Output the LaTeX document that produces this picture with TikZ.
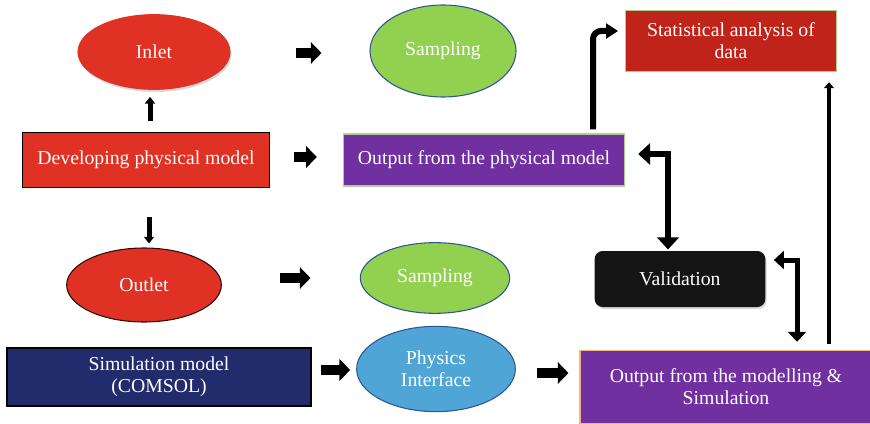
\documentclass[tikz,border=0pt]{standalone}
\usepackage{fontspec}
\setmainfont{Liberation Serif}
\usetikzlibrary{positioning,arrows.meta,shapes.geometric,shadows}
\definecolor{cred}{HTML}{DF3124}
\definecolor{cdred}{HTML}{C0231A}
\definecolor{cgreen}{HTML}{92D050}
\definecolor{cblue}{HTML}{4FA6D6}
\definecolor{cedge}{HTML}{2F5597}
\definecolor{cpurp}{HTML}{7030A0}
\definecolor{cnavy}{HTML}{222B6C}
\definecolor{cval}{HTML}{151515}
\definecolor{cpale}{HTML}{A9D18E}
\definecolor{corg}{HTML}{F4B183}
\tikzset{
  oval/.style={ellipse, inner sep=0pt, text=white, align=center, line width=0.8pt,
               font=\fontsize{14.8}{16.5}\selectfont},
  panel/.style={rectangle, inner sep=0pt, text=white, align=center, line width=0.8pt,
                font=\fontsize{14.8}{16.5}\selectfont},
  fat/.style={-{Triangle[width=16pt,length=8pt]}, line width=7pt},
  thinarr/.style={-{Triangle[width=7.5pt,length=5pt]}, line width=3.75pt},
  hook/.style={-{Triangle[width=11pt,length=9pt]}, line width=4.5pt, rounded corners=6pt},
  both/.style={{Triangle[width=16pt,length=9pt]}-{Triangle[width=16pt,length=9pt]}, line width=4.5pt},
  bothsm/.style={{Triangle[width=13.5pt,length=7.5pt]}-{Triangle[width=13.5pt,length=7.5pt]}, line width=3.75pt},
  rise/.style={-{Triangle[width=7.5pt,length=4.5pt]}, line width=3pt}
}
\begin{document}
\begin{tikzpicture}[x=0.75pt, y=-0.75pt]
\useasboundingbox (0,0) rectangle (870,424);
% left column
\node[oval, fill=cred, draw=cred, drop shadow={opacity=0.3, shadow xshift=1pt, shadow yshift=-2pt},
      minimum width=114pt, minimum height=56pt] (inlet) at (154,52) {Inlet};
\node[panel, fill=cred, draw=black, line width=1.2pt, minimum width=185pt, minimum height=41pt] (dev) at (146,160) {Developing physical model};
\node[oval, fill=cred, draw=black!80!cred, minimum width=116pt, minimum height=55.5pt] (outlet) at (144,285) {Outlet};
\node[panel, fill=cnavy, draw=black, minimum width=228pt, minimum height=43.5pt] (sim) at (159,377) {Simulation model\\(COMSOL)};
% middle column
\node[oval, fill=cgreen, draw=cedge, minimum width=109.5pt, minimum height=69pt] (samp1) at (443,51) {Sampling};
\node[panel, fill=cpurp, draw=cpale, minimum width=211pt, minimum height=39pt] (out1) at (484,160) {Output from the physical model};
\node[oval, fill=cgreen, draw=cedge, minimum width=112pt, minimum height=53pt] (samp2) at (435,278) {Sampling};
\node[oval, fill=cblue, draw=cedge, minimum width=119pt, minimum height=64pt] (phys) at (436,369) {Physics\\Interface};
% right column
\node[panel, fill=cdred, draw=cpale, minimum width=158pt, minimum height=46pt] (stat) at (731,41) {Statistical analysis of\\data};
\node[panel, fill=cval, rounded corners=6pt, drop shadow={opacity=0.3, shadow xshift=1pt, shadow yshift=-1.5pt},
      minimum width=128pt, minimum height=42pt] (valid) at (680,279) {Validation};
\node[panel, fill=cpurp, draw=corg, minimum width=219pt, minimum height=55pt] (out2) at (726,387) {Output from the modelling \&\\Simulation};
% short block arrows
\draw[fat, shorten <=48.75pt, shorten >=36pt] ([yshift=-0.75pt]inlet.east) -- ([yshift=-0.75pt]samp1.west |- inlet.east);
\draw[fat, shorten <=18pt, shorten >=19.5pt] ([yshift=2.25pt]dev.east) -- ([yshift=2.25pt]out1.west);
\draw[fat, shorten <=43.5pt, shorten >=37pt] (outlet.east |- samp2.west) -- (samp2.west);
\draw[fat, shorten <=6.75pt, shorten >=4.5pt] ([yshift=-0.75pt]sim.east |- phys.west) -- ([yshift=-0.75pt]phys.west);
\draw[fat, shorten <=15.75pt, shorten >=8.25pt] ([yshift=-3pt]phys.east) -- ([yshift=-3pt]phys.east -| out2.west);
% up and down from the physical model
\draw[thinarr, shorten <=8.25pt, shorten >=5.25pt] ([xshift=3pt]dev.north) -- ([xshift=3pt]dev.north |- inlet.south);
\draw[thinarr, shorten <=21.75pt, shorten >=3pt] ([xshift=2.25pt]dev.south) -- ([xshift=2.25pt]dev.south |- outlet.north);
% right hand loop
\draw[hook, shorten <=3pt, shorten >=5.25pt] ([xshift=81.75pt]out1.north) |- ([yshift=7.5pt]stat.west);
\draw[both, shorten <=9.75pt, shorten >=0.75pt] ([yshift=4.5pt]out1.east) -| ([xshift=-9pt]valid.north);
\draw[bothsm, shorten <=6pt, shorten >=6pt] ([yshift=14.25pt]valid.east) -| ([xshift=53.25pt]out2.north);
\draw[rise, shorten <=4.5pt, shorten >=7.5pt] ([xshift=77.25pt]out2.north) -- ([xshift=77.25pt]out2.north |- stat.south);
\end{tikzpicture}
\end{document}
